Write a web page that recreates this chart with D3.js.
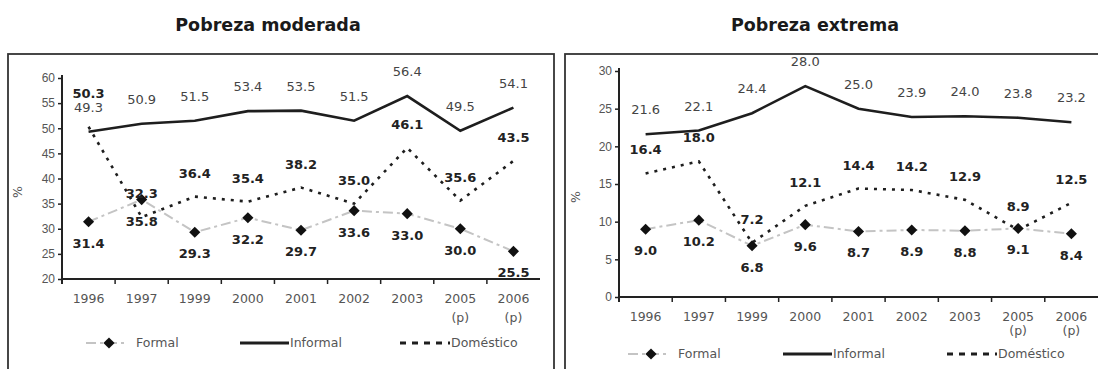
<!DOCTYPE html>
<html>
<head>
<meta charset="utf-8">
<script src="https://cdn.jsdelivr.net/npm/d3@7/dist/d3.min.js"></script>
<style>
  html, body { margin: 0; padding: 0; background: #fff; }
  svg { display: block; font-family: "DejaVu Sans", Verdana, sans-serif; }
</style>
</head>
<body>
<svg id="chart" width="1098" height="369"></svg>
<script>
// Survey years; the last two are preliminary figures
const years = ["1996", "1997", "1999", "2000", "2001", "2002", "2003", "2005", "2006"];
const prelim = [false, false, false, false, false, false, false, true, true];

// Moderate poverty (%)
const moderadaFormal    = [31.4, 35.8, 29.3, 32.2, 29.7, 33.6, 33.0, 30.0, 25.5];
const moderadaInformal  = [49.3, 50.9, 51.5, 53.4, 53.5, 51.5, 56.4, 49.5, 54.1];
const moderadaDomestico = [50.3, 32.3, 36.4, 35.4, 38.2, 35.0, 46.1, 35.6, 43.5];
const moderadaTicks = [20, 25, 30, 35, 40, 45, 50, 55, 60];

// Extreme poverty (%)
const extremaFormal    = [9.0, 10.2, 6.8, 9.6, 8.7, 8.9, 8.8, 9.1, 8.4];
const extremaInformal  = [21.6, 22.1, 24.4, 28.0, 25.0, 23.9, 24.0, 23.8, 23.2];
const extremaDomestico = [16.4, 18.0, 7.2, 12.1, 14.4, 14.2, 12.9, 8.9, 12.5];
const extremaTicks = [0, 5, 10, 15, 20, 25, 30];

const seriesNames = ["Formal", "Informal", "Doméstico"];

const svg = d3.select("#chart");

function panel(cfg) {
  const g = svg.append("g");

  // frame
  g.append("rect")
    .attr("x", cfg.frame[0]).attr("y", cfg.frame[1])
    .attr("width", cfg.frame[2]).attr("height", cfg.frame[3])
    .attr("fill", "none").attr("stroke", "#333").attr("stroke-width", 1.8);

  // title
  g.append("text")
    .attr("x", cfg.titleX).attr("y", 31)
    .attr("text-anchor", "middle")
    .attr("font-size", 17.5).attr("font-weight", "bold").attr("fill", "#1a1a1a")
    .text(cfg.title);

  const x = d3.scaleBand().domain(years).range([cfg.x0, cfg.x1]);
  const y = d3.scaleLinear().domain(cfg.domain).range([cfg.yBottom, cfg.yTop]);
  const cx = d => x(d) + x.bandwidth() / 2;

  // y axis
  const yAxis = d3.axisLeft(y).tickValues(cfg.ticks).tickSize(4).tickPadding(3).tickSizeOuter(0);
  const ya = g.append("g").attr("transform", `translate(${cfg.x0},0)`).call(yAxis);
  ya.select(".domain").attr("stroke", "#222").attr("stroke-width", 2)
    .attr("d", `M0,${cfg.yTop - 3}V${cfg.yBottom + 5}`);
  ya.selectAll(".tick line").attr("stroke", "#222").attr("stroke-width", 1.5);
  ya.selectAll(".tick text").attr("font-size", 12).attr("fill", "#555");

  // y label
  g.append("text")
    .attr("transform", `translate(${cfg.pctX},${cfg.pctY}) rotate(-90)`)
    .attr("text-anchor", "middle").attr("font-size", 12.5).attr("fill", "#555")
    .text("%");

  // x axis line with ticks at the category boundaries
  g.append("line")
    .attr("x1", cfg.x0).attr("x2", cfg.x1)
    .attr("y1", cfg.yBottom).attr("y2", cfg.yBottom)
    .attr("stroke", "#222").attr("stroke-width", 2);
  g.selectAll(".xtick").data(years.slice(1)).enter().append("line")
    .attr("x1", d => x(d)).attr("x2", d => x(d))
    .attr("y1", cfg.yBottom).attr("y2", cfg.yBottom + 5)
    .attr("stroke", "#222").attr("stroke-width", 1.5);
  const xl = g.selectAll(".xlab").data(years).enter().append("text")
    .attr("x", d => cx(d)).attr("y", cfg.yBottom + cfg.xLabDy)
    .attr("text-anchor", "middle").attr("font-size", 12.5).attr("fill", "#555");
  xl.append("tspan").attr("x", d => cx(d)).text(d => d);
  xl.filter((d, i) => prelim[i]).append("tspan")
    .attr("x", d => cx(d)).attr("dy", cfg.pDy).text("(p)");

  const line = vals => d3.line()
    .x((v, i) => cx(years[i])).y(v => y(v))(vals);

  // Formal: light grey dash-dot line with black diamonds
  g.append("path").attr("d", line(cfg.formal))
    .attr("fill", "none").attr("stroke", "#c4c4c4").attr("stroke-width", 2)
    .attr("stroke-dasharray", "10,4,3,4");
  // Informal: solid black
  g.append("path").attr("d", line(cfg.informal))
    .attr("fill", "none").attr("stroke", "#1e1e1e").attr("stroke-width", 2.6);
  // Doméstico: short black dashes
  g.append("path").attr("d", line(cfg.domestico))
    .attr("fill", "none").attr("stroke", "#1e1e1e").attr("stroke-width", 2.6)
    .attr("stroke-dasharray", "3,6");

  const diamond = d3.symbol().type(d3.symbolSquare).size(62);
  g.selectAll(".mk").data(cfg.formal).enter().append("path")
    .attr("d", diamond)
    .attr("transform", (v, i) => `translate(${cx(years[i])},${y(v)}) rotate(45)`)
    .attr("fill", "#111");

  // value labels
  const informalLabY = cfg.informal.map(v => y(v) - 20);
  g.selectAll(".linf").data(cfg.informal).enter().append("text")
    .attr("x", (v, i) => cx(years[i])).attr("y", (v, i) => informalLabY[i])
    .attr("text-anchor", "middle").attr("font-size", 13).attr("fill", "#444")
    .text(v => v.toFixed(1));
  g.selectAll(".ldom").data(cfg.domestico).enter().append("text")
    .attr("x", (v, i) => cx(years[i]))
    .attr("y", (v, i) => {
      let ly = y(v) - 19;
      // keep clear of the informal label in the same column
      if (Math.abs(ly - informalLabY[i]) < 14) ly = informalLabY[i] - 14;
      return ly;
    })
    .attr("text-anchor", "middle").attr("font-size", 13).attr("font-weight", "bold").attr("fill", "#222")
    .text(v => v.toFixed(1));
  g.selectAll(".lfor").data(cfg.formal).enter().append("text")
    .attr("x", (v, i) => cx(years[i])).attr("y", v => y(v) + 26)
    .attr("text-anchor", "middle").attr("font-size", 13).attr("font-weight", "bold").attr("fill", "#222")
    .text(v => v.toFixed(1));

  // legend
  const ly = cfg.legendY;
  const L = cfg.legend;
  g.append("line").attr("x1", L[0]).attr("x2", L[0] + 40).attr("y1", ly).attr("y2", ly)
    .attr("stroke", "#c4c4c4").attr("stroke-width", 2).attr("stroke-dasharray", "10,4,3,4");
  g.append("path").attr("d", diamond)
    .attr("transform", `translate(${L[0] + 23},${ly}) rotate(45)`).attr("fill", "#111");
  g.append("text").attr("x", L[0] + 50).attr("y", ly + 4)
    .attr("font-size", 12.5).attr("fill", "#555").text(seriesNames[0]);
  g.append("line").attr("x1", L[1]).attr("x2", L[1] + 49).attr("y1", ly).attr("y2", ly)
    .attr("stroke", "#1e1e1e").attr("stroke-width", 2.8);
  g.append("text").attr("x", L[1] + 50).attr("y", ly + 4)
    .attr("font-size", 12.5).attr("fill", "#555").text(seriesNames[1]);
  g.append("line").attr("x1", L[2]).attr("x2", L[2] + 50).attr("y1", ly).attr("y2", ly)
    .attr("stroke", "#1e1e1e").attr("stroke-width", 3).attr("stroke-dasharray", "6,6");
  g.append("text").attr("x", L[2] + 51).attr("y", ly + 4)
    .attr("font-size", 12.5).attr("fill", "#555").text(seriesNames[2]);
}

panel({
  title: "Pobreza moderada", titleX: 268,
  frame: [8, 54, 546, 330],
  x0: 62, x1: 540, yTop: 78, yBottom: 279,
  domain: [20, 60], ticks: moderadaTicks,
  pctX: 22, pctY: 192,
  xLabDy: 24, pDy: 19, legendY: 343,
  legend: [86, 240, 400],
  formal: moderadaFormal, informal: moderadaInformal, domestico: moderadaDomestico
});

panel({
  title: "Pobreza extrema", titleX: 815,
  frame: [565, 54, 560, 330],
  x0: 619, x1: 1098, yTop: 71, yBottom: 297,
  domain: [0, 30], ticks: extremaTicks,
  pctX: 580, pctY: 197,
  xLabDy: 24, pDy: 14, legendY: 354,
  legend: [628, 783, 947],
  formal: extremaFormal, informal: extremaInformal, domestico: extremaDomestico
});
</script>
</body>
</html>
